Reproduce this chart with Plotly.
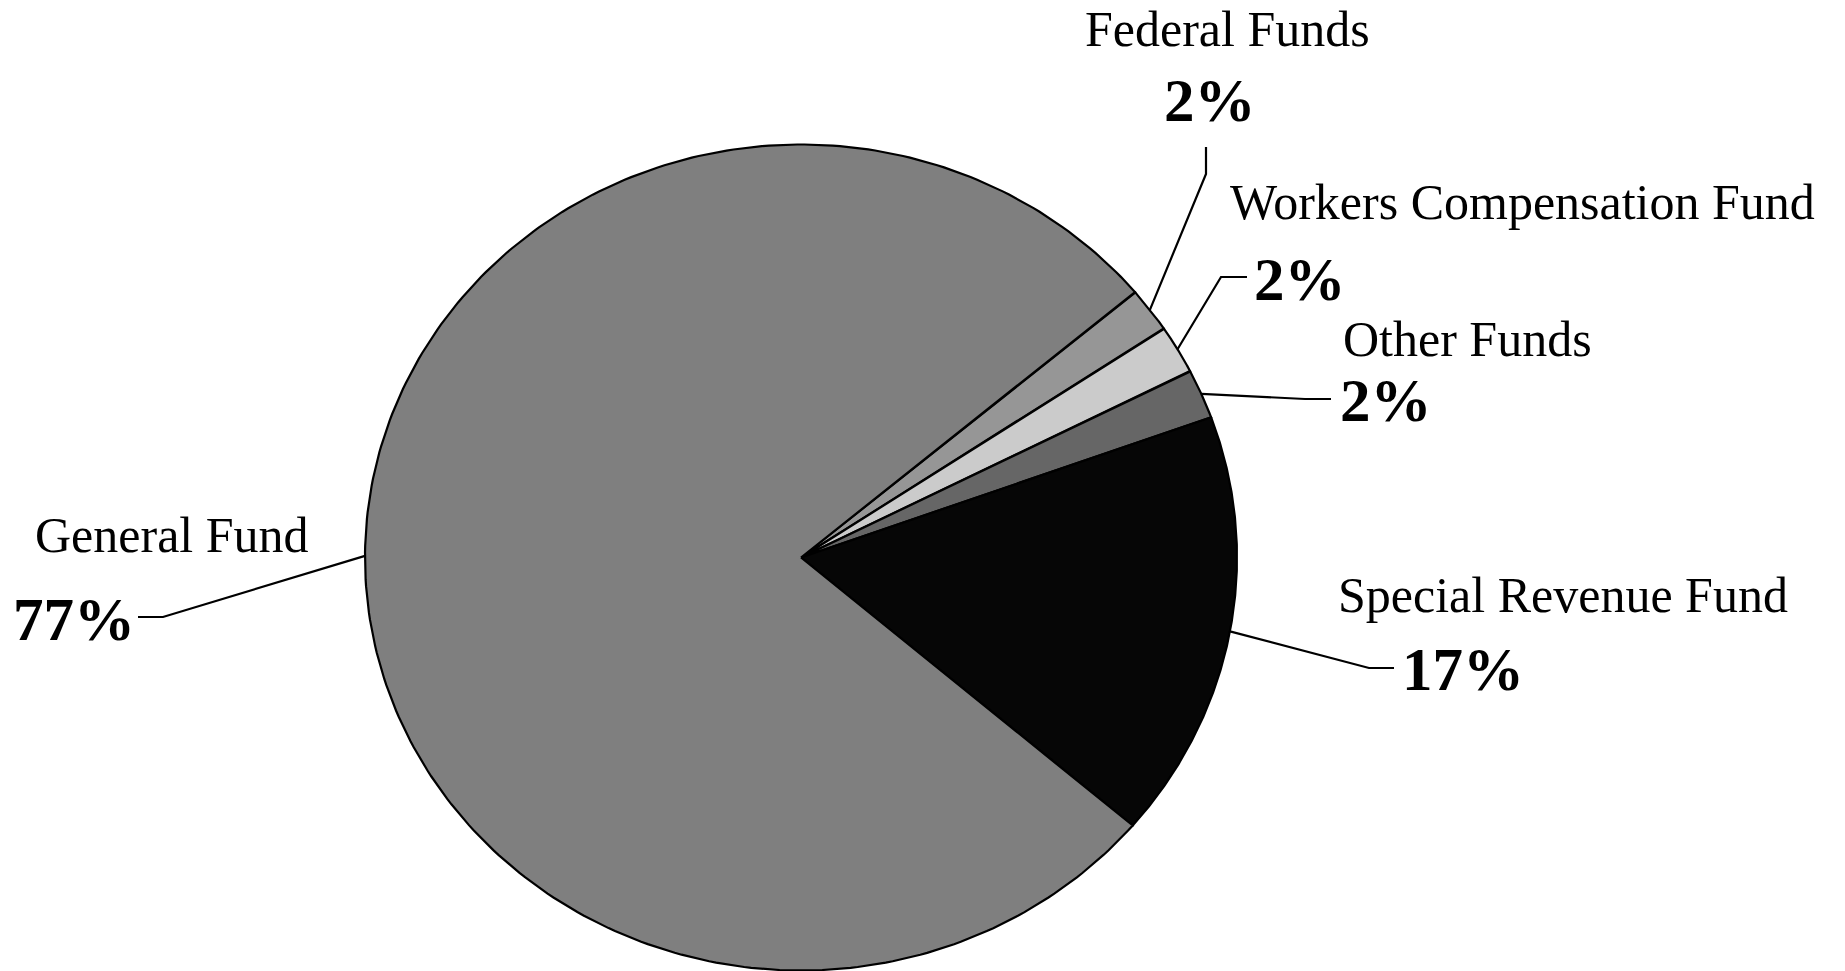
# круговая диаграмма распределения по фондам
import numpy as np
import plotly.graph_objects as go

# данные (по часовой стрелке от верхнего правого края)
funds = ['Federal Funds', 'Workers Compensation Fund', 'Other Funds', 'Special Revenue Fund', 'General Fund']
shares = [1.75, 1.9, 1.95, 16.75, 77.65]
pct_labels = ['2%', '2%', '2%', '17%', '77%']
colors = ['#969696', '#cbcbcb', '#666666', '#060606', '#7f7f7f']

# размер страницы и геометрия (пирог слегка сплюснут), в пикселях
W, H = 1845, 971
cx, cy, rx, ry = 801, 557.5, 436, 413
start = 40  # угол начала первого сектора, градусы

# подписи: название (левый край, центр по y), процент, изломы выносных линий
name_pos = [(1083, 28.5), (1228, 201.5), (1341, 339), (1336, 595), (33, 535)]
pct_pos = [(1162, 100), (1252, 279), (1338, 400), (1400, 669), (11, 619)]
leaders = [[(1206, 174), (1206, 147)],
           [(1221, 277), (1247, 277)],
           [(1305, 399), (1331, 399)],
           [(1369, 668), (1394, 668)],
           [(163, 617), (138, 617)]]

serif = 'Liberation Serif, Times New Roman, serif'

fig = go.Figure()

total = sum(shares)
a0 = start
for i in range(len(funds)):
    a1 = a0 - shares[i] / total * 360
    t = np.radians(np.linspace(a0, a1, 300))
    xs = np.concatenate([[cx], cx + rx * np.cos(t), [cx]])
    ys = np.concatenate([[cy], cy - ry * np.sin(t), [cy]])
    fig.add_trace(go.Scatter(x=xs, y=ys, mode='lines', fill='toself', fillcolor=colors[i],
                             line=dict(color='black', width=2.2), hoverinfo='skip', name=funds[i]))

    # выносная линия от середины дуги сектора
    mid = np.radians((a0 + a1) / 2)
    lx = [cx + rx * np.cos(mid)] + [p[0] for p in leaders[i]]
    ly = [cy - ry * np.sin(mid)] + [p[1] for p in leaders[i]]
    fig.add_trace(go.Scatter(x=lx, y=ly, mode='lines', line=dict(color='black', width=2.2),
                             hoverinfo='skip', showlegend=False))

    fig.add_annotation(x=name_pos[i][0], y=name_pos[i][1], text=funds[i], showarrow=False,
                       xanchor='left', yanchor='middle', font=dict(family=serif, size=50, color='black'))
    fig.add_annotation(x=pct_pos[i][0], y=pct_pos[i][1], text='<b>' + pct_labels[i] + '</b>', showarrow=False,
                       xanchor='left', yanchor='middle', font=dict(family=serif, size=61, color='black'))
    a0 = a1

fig.update_layout(width=W, height=H, margin=dict(l=0, r=0, t=0, b=0),
                  paper_bgcolor='white', plot_bgcolor='white', showlegend=False,
                  xaxis=dict(range=[0, W], visible=False, fixedrange=True),
                  yaxis=dict(range=[H, 0], visible=False, fixedrange=True))

fig.write_html('out.html', config={'displayModeBar': False},
               post_script="document.body.style.margin='0';")
